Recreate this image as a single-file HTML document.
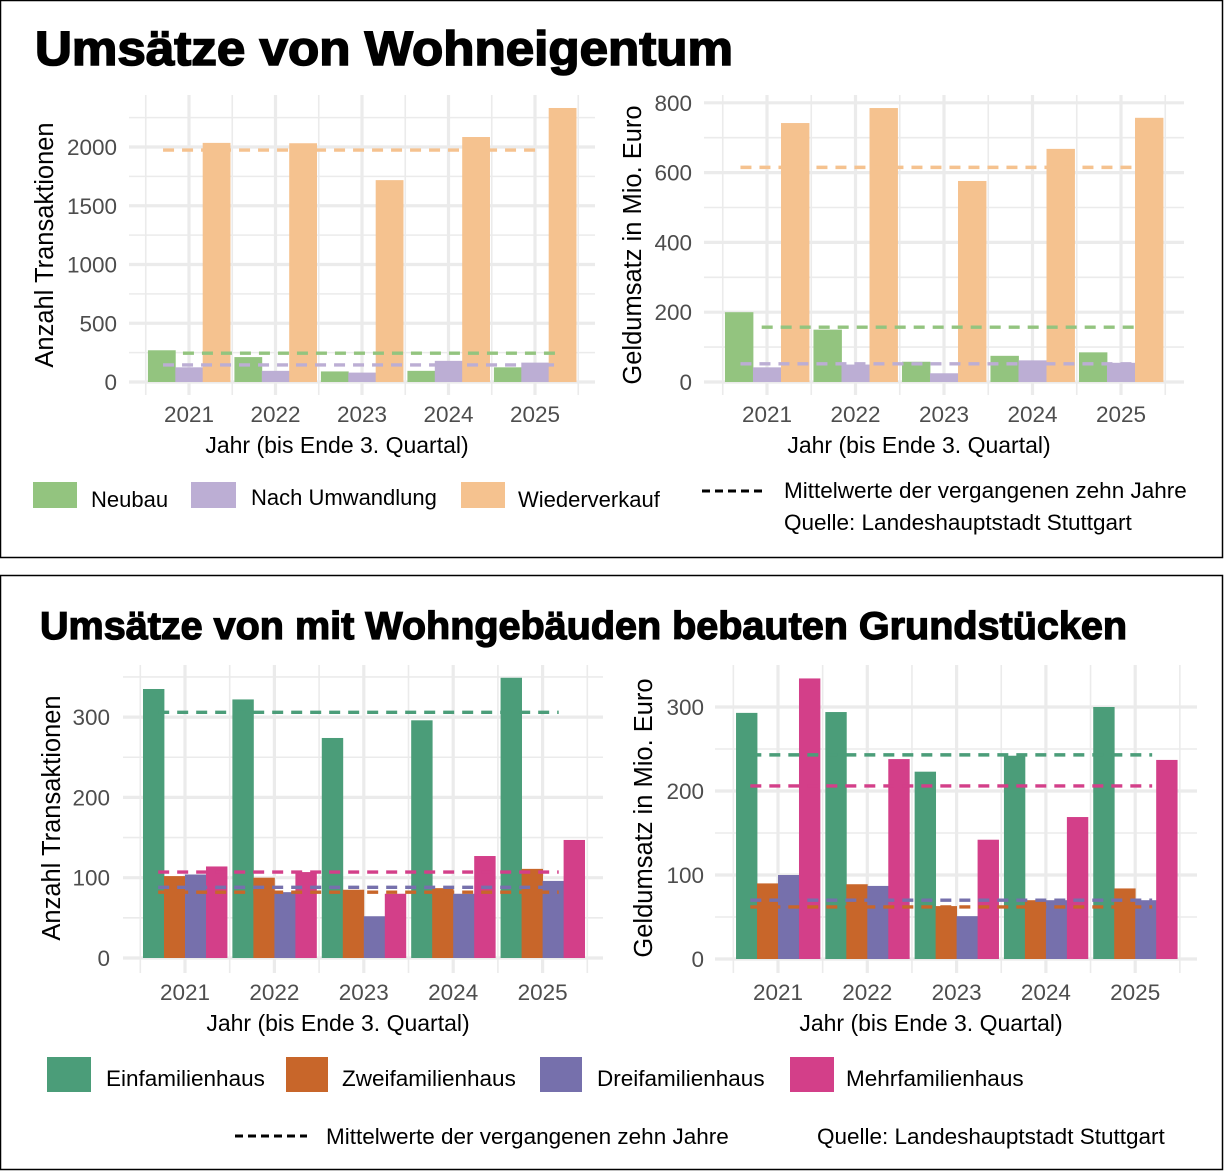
<!DOCTYPE html>
<html><head><meta charset="utf-8"><style>
html,body{margin:0;padding:0;background:#fff}
svg{display:block}
text{font-family:"Liberation Sans",sans-serif}
</style></head><body>
<svg id="root" width="1224" height="1172" viewBox="0 0 1224 1172" xmlns="http://www.w3.org/2000/svg">
<rect x="0.5" y="0.5" width="1222" height="557" fill="#fff" stroke="#000" stroke-width="1.5"/>
<rect x="0.5" y="575.5" width="1222" height="594" fill="#fff" stroke="#000" stroke-width="1.5"/>
<text x="35" y="65" font-size="48" font-weight="bold" stroke="#000" stroke-width="1.6" textLength="698" lengthAdjust="spacingAndGlyphs">Umsätze von Wohneigentum</text>
<text x="40" y="639" font-size="39" font-weight="bold" stroke="#000" stroke-width="1.3" textLength="1087" lengthAdjust="spacingAndGlyphs">Umsätze von mit Wohngebäuden bebauten Grundstücken</text>
<g id="charts"></g>
<g>
<rect x="33" y="482" width="44" height="26" fill="#93c47f"/>
<text x="91" y="507" font-size="22">Neubau</text>
<rect x="191" y="482" width="45" height="26" fill="#bcaed4"/>
<text x="251" y="505" font-size="22">Nach Umwandlung</text>
<rect x="461" y="482" width="44" height="26" fill="#f5c28f"/>
<text x="518" y="507" font-size="22">Wiederverkauf</text>
<line x1="702" y1="491" x2="762" y2="491" stroke="#000" stroke-width="3" stroke-dasharray="8,5"/>
<text x="784" y="498" font-size="22.5">Mittelwerte der vergangenen zehn Jahre</text>
<text x="784" y="530" font-size="22.5">Quelle: Landeshauptstadt Stuttgart</text>
</g>
<g>
<rect x="47" y="1057" width="44" height="35" fill="#4b9d79"/>
<text x="106" y="1086" font-size="22.5">Einfamilienhaus</text>
<rect x="286" y="1057" width="42" height="35" fill="#c8662a"/>
<text x="342" y="1086" font-size="22.5">Zweifamilienhaus</text>
<rect x="540" y="1057" width="42" height="35" fill="#7670ac"/>
<text x="597" y="1086" font-size="22.5">Dreifamilienhaus</text>
<rect x="790" y="1057" width="44" height="35" fill="#d33f89"/>
<text x="846" y="1086" font-size="22.5">Mehrfamilienhaus</text>
<line x1="235" y1="1136" x2="307" y2="1136" stroke="#000" stroke-width="3" stroke-dasharray="8,5"/>
<text x="326" y="1144" font-size="22.5">Mittelwerte der vergangenen zehn Jahre</text>
<text x="817" y="1144" font-size="22.5">Quelle: Landeshauptstadt Stuttgart</text>
</g>
</svg>
<script>
const years = ["2021","2022","2023","2024","2025"];
// Chart 1: Wohneigentum Anzahl
const c1Neubau = [270, 212, 90, 95, 125];
const c1Umwandlung = [125, 95, 80, 180, 165];
const c1Wiederverkauf = [2035, 2032, 1718, 2085, 2332];
const c1Means = [245, 145, 1974];
const c1Ticks = [0, 500, 1000, 1500, 2000];
const c1Minor = [250, 750, 1250, 1750, 2250];
// Chart 2: Wohneigentum Geldumsatz
const c2Neubau = [200, 150, 58, 75, 85];
const c2Umwandlung = [42, 50, 25, 62, 55];
const c2Wiederverkauf = [742, 785, 576, 668, 757];
const c2Means = [157, 52, 615];
const c2Ticks = [0, 200, 400, 600, 800];
const c2Minor = [100, 300, 500, 700];
// Chart 3: Grundstücke Anzahl
const c3Efh = [335, 322, 274, 296, 349];
const c3Zfh = [102, 100, 85, 87, 111];
const c3Dfh = [104, 82, 52, 80, 96];
const c3Mfh = [114, 107, 80, 127, 147];
const c3Means = [306, 82, 88, 107];
const c3Ticks = [0, 100, 200, 300];
const c3Minor = [50, 150, 250, 350];
// Chart 4: Grundstücke Geldumsatz
const c4Efh = [293, 294, 223, 242, 300];
const c4Zfh = [90, 89, 63, 70, 84];
const c4Dfh = [100, 87, 51, 70, 70];
const c4Mfh = [334, 238, 142, 169, 237];
const c4Means = [243, 62, 70, 206];
const c4Ticks = [0, 100, 200, 300];
const c4Minor = [50, 150, 250];

const NS = "http://www.w3.org/2000/svg";
const root = document.getElementById("charts");
function mk(tag, attrs, parent) {
  const e = document.createElementNS(NS, tag);
  for (const k in attrs) e.setAttribute(k, attrs[k]);
  (parent || root).appendChild(e);
  return e;
}

function drawChart(cfg) {
  const g = mk("g", {});
  
  
  const y = v => cfg.y0 - v * cfg.ky;
  const x = i => cfg.x0 + i * cfg.dx;
  cfg.minor.forEach(v => {
    const l = mk("line", {x1: cfg.left, x2: cfg.right, y1: y(v), y2: y(v), stroke: "#ebebeb", "stroke-width": 1.6}, g);
    
    
  });
  for (let i = -1; i < years.length; i++) {
    const xv = x(i + 0.5);
    const l = mk("line", {x1: xv, x2: xv, y1: cfg.top, y2: cfg.bottom, stroke: "#ebebeb", "stroke-width": 1.6}, g);
    
    
  }
  cfg.ticks.forEach(v => {
    const l = mk("line", {x1: cfg.left, x2: cfg.right, y1: y(v), y2: y(v), stroke: "#ebebeb", "stroke-width": 3.2}, g);
    
    
    const t = mk("text", {x: cfg.tickX, y: y(v) + 8, "font-size": 22.5, fill: "#4d4d4d", "text-anchor": "end"}, g);
    t.textContent = String(v);
    
    
  });
  years.forEach((yr, i) => {
    const l = mk("line", {x1: x(i), x2: x(i), y1: cfg.top, y2: cfg.bottom, stroke: "#ebebeb", "stroke-width": 3.2}, g);
    
    
    const t = mk("text", {x: x(i), y: cfg.yearY, "font-size": 22.5, fill: "#4d4d4d", "text-anchor": "middle"}, g);
    t.textContent = yr;
    
    
  });
  const n = cfg.series.length;
  const gw = cfg.dx * cfg.groupFrac;
  const bw = gw / n;
  cfg.series.forEach((s, si) => {
    s.values.forEach((v, i) => {
      const bx = x(i) - gw / 2 + si * bw;
      const r = mk("rect", {x: bx, y: y(v), width: bw + 0.4, height: Math.max(0, y(0) - y(v)), fill: s.color}, g);
      
      
    });
  });
  cfg.series.forEach((s, si) => {
    const m = cfg.means[si];
    const l = mk("line", {x1: x(s.ms), x2: x(s.me), y1: y(m), y2: y(m), stroke: s.color, "stroke-width": 3.4, "stroke-dasharray": "11,8"}, g);
    
    
  });
  const xt = mk("text", {x: cfg.xtX, y: cfg.yearY + 31, "font-size": 23, "text-anchor": "middle"}, g);
  xt.textContent = "Jahr (bis Ende 3. Quartal)";
  
  
  const yt = mk("text", {x: 0, y: 0, "font-size": 25.5, "text-anchor": "middle", transform: "translate(" + cfg.ytX + "," + cfg.ytY + ") rotate(-90)"}, g);
  yt.textContent = cfg.ytitle;
  
  
}

const G1 = "#93c47f", P1 = "#bcaed4", O1 = "#f5c28f";
const G2 = "#4b9d79", O2 = "#c8662a", P2 = "#7670ac", M2 = "#d33f89";

drawChart({name: "chart-anzahl-wohneigentum", x0: 189, dx: 86.5, y0: 382, ky: 0.1175, left: 129, right: 595, top: 95, bottom: 395,
  ticks: c1Ticks, minor: c1Minor, tickX: 117, yearY: 422, groupFrac: 0.95, means: c1Means, xtX: 337,
  ytitle: "Anzahl Transaktionen", ytX: 53, ytY: 245,
  series: [{key: "neubau", color: G1, values: c1Neubau, ms: -0.07, me: 4.31},
           {key: "umwandlung", color: P1, values: c1Umwandlung, ms: -0.3, me: 4.31},
           {key: "wiederverkauf", color: O1, values: c1Wiederverkauf, ms: -0.3, me: 4.06}]});
drawChart({name: "chart-geldumsatz-wohneigentum", x0: 767, dx: 88.5, y0: 382, ky: 0.349, left: 704, right: 1184, top: 95, bottom: 395,
  ticks: c2Ticks, minor: c2Minor, tickX: 692, yearY: 422, groupFrac: 0.95, means: c2Means, xtX: 919,
  ytitle: "Geldumsatz in Mio. Euro", ytX: 641, ytY: 245,
  series: [{key: "neubau", color: G1, values: c2Neubau, ms: -0.06, me: 4.16},
           {key: "umwandlung", color: P1, values: c2Umwandlung, ms: -0.3, me: 4.18},
           {key: "wiederverkauf", color: O1, values: c2Wiederverkauf, ms: -0.3, me: 4.16}]});
drawChart({name: "chart-anzahl-grundstuecke", x0: 185, dx: 89.4, y0: 958, ky: 0.803, left: 123, right: 603, top: 665, bottom: 973,
  ticks: c3Ticks, minor: c3Minor, tickX: 110, yearY: 1000, groupFrac: 0.94, means: c3Means, xtX: 338,
  ytitle: "Anzahl Transaktionen", ytX: 60, ytY: 818,
  series: [{key: "einfamilienhaus", color: G2, values: c3Efh, ms: -0.3, me: 4.18},
           {key: "zweifamilienhaus", color: O2, values: c3Zfh, ms: -0.3, me: 4.18},
           {key: "dreifamilienhaus", color: P2, values: c3Dfh, ms: -0.3, me: 4.18},
           {key: "mehrfamilienhaus", color: M2, values: c3Mfh, ms: -0.3, me: 4.18}]});
drawChart({name: "chart-geldumsatz-grundstuecke", x0: 778, dx: 89.3, y0: 959, ky: 0.84, left: 715, right: 1197, top: 665, bottom: 973,
  ticks: c4Ticks, minor: c4Minor, tickX: 704, yearY: 1000, groupFrac: 0.94, means: c4Means, xtX: 931,
  ytitle: "Geldumsatz in Mio. Euro", ytX: 652, ytY: 818,
  series: [{key: "einfamilienhaus", color: G2, values: c4Efh, ms: -0.31, me: 4.19},
           {key: "zweifamilienhaus", color: O2, values: c4Zfh, ms: -0.31, me: 4.19},
           {key: "dreifamilienhaus", color: P2, values: c4Dfh, ms: -0.31, me: 4.19},
           {key: "mehrfamilienhaus", color: M2, values: c4Mfh, ms: -0.31, me: 4.19}]});
</script>
</body></html>
